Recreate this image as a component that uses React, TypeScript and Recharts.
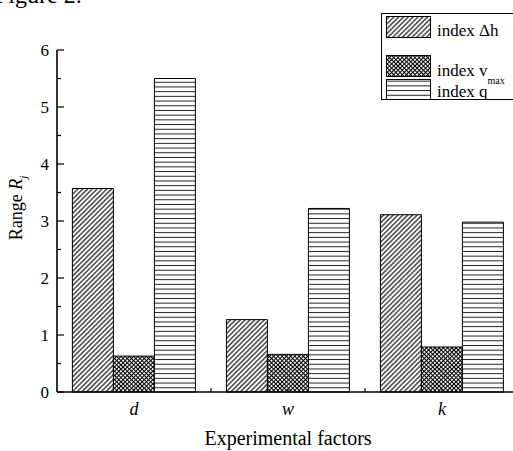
import { Bar, BarChart, Legend, XAxis, YAxis } from "recharts";

const factors = ["d", "w", "k"];
const indexDh = [3.57, 1.27, 3.11];
const indexVmax = [0.63, 0.66, 0.79];
const indexQ = [5.5, 3.22, 2.98];
const yTicks = [0, 0.5, 1, 1.5, 2, 2.5, 3, 3.5, 4, 4.5, 5, 5.5, 6];
const seriesNames = ["index Δh", "index v", "index q"];
const seriesSubs = ["", "max", ""];

const data = factors.map((f, i) => ({ factor: f, dh: indexDh[i], vmax: indexVmax[i], q: indexQ[i] }));

const W = 530;
const H = 451;
const AXIS_X = 57;
const RIGHT = 11;
const band = (W - AXIS_X - RIGHT) / factors.length;
const serif = { fontFamily: "Liberation Serif, Tinos, Times New Roman, serif" };
const fills = ["url(#hatch)", "url(#cross)", "url(#hlines)"];

function YTick({ x, y, payload }: any) {
  const v = payload.value;
  const major = Number.isInteger(v);
  return (
    <g>
      <line x1={x} x2={x + (major ? 7 : 4)} y1={y} y2={y} stroke="#000" strokeWidth={1.2} />
      {major && (
        <text x={x - 8} y={y} dy="0.38em" textAnchor="end" fontSize={17} style={serif} fill="#000">
          {v}
        </text>
      )}
    </g>
  );
}

function XTick({ x, y, payload }: any) {
  return (
    <g>
      <line x1={x} x2={x} y1={y} y2={y - 3} stroke="#000" strokeWidth={1.2} />
      <line x1={x + band / 2} x2={x + band / 2} y1={y} y2={y - 4} stroke="#000" strokeWidth={1.2} />
      <text x={x} y={y + 23} textAnchor="middle" fontStyle="italic" fontSize={18} style={serif} fill="#000">
        {payload.value}
      </text>
    </g>
  );
}

// legend rows: swatch top / height, text baseline (relative to the box)
const rows = [
  { y: 3.5, h: 21, base: 22.5 },
  { y: 42.5, h: 21, base: 63 },
  { y: 66.5, h: 20, base: 83.5 },
];

function LegendBox() {
  return (
    <svg width={140} height={87} style={{ display: "block" }}>
      <rect x={0.5} y={0.5} width={150} height={86} fill="#fff" stroke="#000" strokeWidth={1} />
      {seriesNames.map((name, i) => (
        <g key={name}>
          <rect x={5.5} y={rows[i].y} width={44} height={rows[i].h} fill={fills[i]} stroke="#000" strokeWidth={1} />
          <text x={56} y={rows[i].base} fontSize={17} style={serif} fill="#000">
            {name}
            {seriesSubs[i] && (
              <tspan dy={8} fontSize={10}>
                {seriesSubs[i]}
              </tspan>
            )}
          </text>
        </g>
      ))}
    </svg>
  );
}

export default function App() {
  return (
    <div style={{ position: "absolute", left: 0, top: 0, width: 513, height: 451, overflow: "hidden", background: "#fff" }}>
      <BarChart
        width={W}
        height={H}
        data={data}
        margin={{ top: 50, right: RIGHT, bottom: 29, left: 0 }}
        barGap={0}
        barCategoryGap="10%"
      >
        <defs>
          <pattern id="hatch" width={3.4} height={3.4} patternUnits="userSpaceOnUse" patternTransform="rotate(45)">
            <rect width={3.4} height={3.4} fill="#fff" />
            <line x1={1.7} x2={1.7} y1={0} y2={3.4} stroke="#000" strokeWidth={1.1} />
          </pattern>
          <pattern id="cross" width={3} height={3} patternUnits="userSpaceOnUse" patternTransform="rotate(45)">
            <rect width={3} height={3} fill="#fff" />
            <path d="M1.5 0V3M0 1.5H3" stroke="#000" strokeWidth={1.1} />
          </pattern>
          <pattern id="hlines" width={8} height={4.7} patternUnits="userSpaceOnUse">
            <rect width={8} height={4.7} fill="#fff" />
            <line x1={0} x2={8} y1={2.35} y2={2.35} stroke="#222" strokeWidth={1} />
          </pattern>
        </defs>
        <XAxis
          dataKey="factor"
          height={30}
          axisLine={{ stroke: "#000", strokeWidth: 1.6 }}
          tickLine={false}
          tickSize={0}
          tickMargin={0}
          tick={<XTick />}
          interval={0}
        />
        <YAxis
          width={AXIS_X}
          domain={[0, 6]}
          ticks={yTicks}
          interval={0}
          axisLine={{ stroke: "#000", strokeWidth: 1.6 }}
          tickLine={false}
          tickSize={0}
          tickMargin={0}
          tick={<YTick />}
        />
        <Legend
          layout="vertical"
          align="center"
          verticalAlign="middle"
          wrapperStyle={{ left: 381, top: 13, width: 140, height: 87 }}
          content={() => <LegendBox />}
        />
        <Bar dataKey="dh" name={seriesNames[0]} fill={fills[0]} stroke="#000" strokeWidth={1} isAnimationActive={false} />
        <Bar dataKey="vmax" name={seriesNames[1]} fill={fills[1]} stroke="#000" strokeWidth={1} isAnimationActive={false} />
        <Bar dataKey="q" name={seriesNames[2]} fill={fills[2]} stroke="#000" strokeWidth={1} isAnimationActive={false} />
      </BarChart>
      <svg width={513} height={451} style={{ position: "absolute", left: 0, top: 0, pointerEvents: "none" }}>
        <text x={-5} y={3} fontSize={24} style={serif} fill="#000">
          Figure 2.
        </text>
        <text transform="translate(22,208) rotate(-90)" textAnchor="middle" fontSize={18} style={serif} fill="#000">
          Range <tspan fontStyle="italic">R</tspan>
          <tspan fontStyle="italic" fontSize={11} dy={5}>
            j
          </tspan>
        </text>
        <text x={288} y={445} textAnchor="middle" fontSize={20} style={serif} fill="#000">
          Experimental factors
        </text>
      </svg>
    </div>
  );
}
